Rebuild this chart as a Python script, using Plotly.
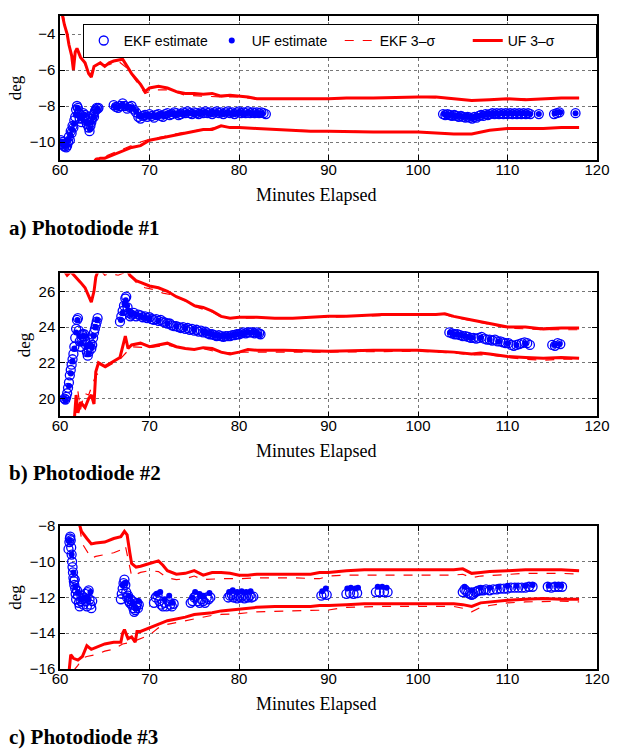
import plotly.graph_objects as go

# ---------------- data ----------------
# Panel a) Photodiode #1
p1_ekf_est = [(60.1,-9.9),(60.2,-10.1),(60.3,-10.0),(60.4,-10.2),(60.5,-10.25),(60.6,-10.1),(60.7,-10.3),(60.8,-10.2),
              (60.9,-10.0),(61.0,-9.7),(61.1,-9.9),(61.2,-9.4),(61.3,-9.5),(61.4,-9.1),(61.5,-9.2),(61.6,-8.8),
              (61.7,-8.6),(61.8,-8.2),(61.9,-8.0),(62.0,-8.1),(62.1,-8.4),(62.2,-8.7),(62.3,-8.5),(62.4,-8.9),
              (62.5,-8.7),(62.6,-8.4),(62.7,-8.6),(62.8,-8.5),(62.9,-8.8),(63.0,-9.0),(63.1,-8.8),(63.2,-9.2),
              (63.3,-9.4),(63.4,-9.1),(63.5,-8.9),(63.6,-8.7),(63.7,-8.5),(63.8,-8.6),(63.9,-8.3),(64.0,-8.2),
              (64.1,-8.1),(64.2,-8.15),(64.3,-8.1),
              (66.0,-7.95),(66.25,-8.05),(66.5,-8.1),(66.75,-8.0),(67.0,-7.85),(67.25,-8.0),(67.5,-8.15),
              (67.75,-8.05),(68.0,-8.0),(68.25,-8.2),(68.5,-8.35),(68.75,-8.6),(69.0,-8.7),(69.25,-8.55),
              (69.5,-8.5),(69.75,-8.6),(70.0,-8.45),(70.25,-8.55),(70.5,-8.65),(70.75,-8.5),(71.0,-8.45),
              (71.25,-8.55),(71.5,-8.6),(71.75,-8.45),(72.0,-8.4),(72.25,-8.5),(72.5,-8.45),(72.75,-8.35),
              (73.0,-8.4),(73.25,-8.5),(73.5,-8.45),(73.75,-8.35),(74.0,-8.4),(74.25,-8.3),(74.5,-8.4),
              (74.75,-8.45),(75.0,-8.35),(75.25,-8.4),(75.5,-8.45),(75.75,-8.35),(76.0,-8.4),(76.25,-8.3),
              (76.5,-8.4),(76.75,-8.35),(77.0,-8.45),(77.25,-8.35),(77.5,-8.3),(77.75,-8.4),(78.0,-8.35),
              (78.25,-8.45),(78.5,-8.35),(78.75,-8.3),(79.0,-8.4),(79.25,-8.35),(79.5,-8.45),(79.75,-8.35),
              (80.0,-8.3),(80.25,-8.4),(80.5,-8.35),(80.75,-8.4),(81.0,-8.3),(81.25,-8.4),(81.5,-8.35),
              (81.75,-8.4),(82.0,-8.35),(82.25,-8.4),(82.5,-8.35),(82.75,-8.4),(83.0,-8.45),
              (102.8,-8.45),(103.05,-8.5),(103.3,-8.45),(103.55,-8.5),(103.8,-8.55),(104.05,-8.5),(104.3,-8.55),
              (104.55,-8.6),(104.8,-8.55),(105.05,-8.6),(105.3,-8.65),(105.55,-8.6),(105.8,-8.65),(106.05,-8.7),
              (106.3,-8.6),(106.55,-8.65),(106.8,-8.55),(107.05,-8.5),(107.3,-8.55),(107.55,-8.45),(107.8,-8.5),
              (108.05,-8.45),(108.3,-8.4),(108.55,-8.45),(108.8,-8.4),(109.05,-8.45),(109.3,-8.4),(109.55,-8.45),
              (109.8,-8.4),(110.05,-8.45),(110.3,-8.4),(110.55,-8.45),(110.8,-8.4),(111.05,-8.45),(111.3,-8.4),
              (111.55,-8.45),(111.8,-8.4),(112.05,-8.45),(112.3,-8.4),(112.55,-8.45),
              (113.5,-8.45),(115.2,-8.45),(115.5,-8.4),(115.8,-8.35),(117.6,-8.4)]
p1_uf_est = [(60.15,-10.0),(60.35,-10.1),(60.55,-10.2),(60.75,-10.2),(60.95,-9.9),(61.15,-9.6),(61.35,-9.3),
             (61.55,-9.0),(61.75,-8.5),(61.95,-8.1),(62.15,-8.5),(62.35,-8.7),(62.55,-8.6),(62.75,-8.5),
             (62.95,-8.9),(63.15,-9.0),(63.35,-9.3),(63.55,-8.9),(63.75,-8.6),(63.95,-8.3),(64.15,-8.15),
             (66.1,-8.0),(66.4,-8.1),(66.7,-8.0),(67.0,-7.9),(67.3,-8.05),(67.6,-8.1),(67.9,-8.05),(68.2,-8.15),
             (68.5,-8.3),(68.8,-8.55),(69.1,-8.6),(69.4,-8.5),(69.7,-8.55),(70.0,-8.5),(70.3,-8.55),(70.6,-8.55),
             (70.9,-8.5),(71.2,-8.5),(71.5,-8.55),(71.8,-8.45),(72.1,-8.45),(72.4,-8.45),(72.7,-8.4),(73.0,-8.45),
             (73.3,-8.45),(73.6,-8.4),(73.9,-8.4),(74.2,-8.35),(74.5,-8.4),(74.8,-8.4),(75.1,-8.4),(75.4,-8.4),
             (75.7,-8.4),(76.0,-8.35),(76.3,-8.35),(76.6,-8.4),(76.9,-8.4),(77.2,-8.35),(77.5,-8.35),(77.8,-8.4),
             (78.1,-8.4),(78.4,-8.4),(78.7,-8.35),(79.0,-8.4),(79.3,-8.4),(79.6,-8.4),(79.9,-8.35),(80.2,-8.35),
             (80.5,-8.4),(80.8,-8.4),(81.1,-8.35),(81.4,-8.4),(81.7,-8.4),(82.0,-8.4),(82.3,-8.4),(82.6,-8.4),
             (102.9,-8.45),(103.2,-8.5),(103.5,-8.5),(103.8,-8.5),(104.1,-8.55),(104.4,-8.55),(104.7,-8.55),
             (105.0,-8.6),(105.3,-8.6),(105.6,-8.6),(105.9,-8.65),(106.2,-8.65),(106.5,-8.6),(106.8,-8.55),
             (107.1,-8.5),(107.4,-8.5),(107.7,-8.45),(108.0,-8.45),(108.3,-8.45),(108.6,-8.4),(108.9,-8.45),
             (109.2,-8.4),(109.5,-8.4),(109.8,-8.4),(110.1,-8.4),(110.4,-8.4),(110.7,-8.4),(111.0,-8.4),
             (111.3,-8.4),(111.6,-8.4),(111.9,-8.4),(112.2,-8.4),(112.5,-8.45),
             (113.5,-8.45),(115.3,-8.4),(115.6,-8.35),(115.9,-8.35),(117.6,-8.4)]
p1_uf_up = [(60.2,-2.8),(60.5,-3.5),(60.8,-4.0),(61.0,-4.6),(61.3,-5.2),(61.5,-6.0),(61.7,-5.0),(61.9,-4.8),
            (62.3,-5.3),(62.8,-5.6),(63.2,-6.2),(63.5,-6.4),(63.8,-5.8),(64.5,-5.6),(65.0,-5.8),(65.5,-5.6),
            (66.0,-5.5),(67.0,-5.4),(67.5,-5.8),(68.0,-6.2),(68.5,-6.5),(69.0,-6.8),(69.5,-7.2),(70.0,-7.0),
            (71.0,-6.9),(72.0,-7.0),(73.0,-7.2),(74.0,-7.3),(75.0,-7.3),(76.0,-7.35),(77.0,-7.3),(78.0,-7.45),
            (79.0,-7.4),(80.0,-7.45),(81.0,-7.5),(82.0,-7.6),(85.0,-7.6),(90.0,-7.6),(92.0,-7.55),(95.0,-7.55),
            (100.0,-7.5),(102.0,-7.5),(104.0,-7.6),(106.0,-7.7),(108.0,-7.65),(110.0,-7.6),(112.0,-7.65),
            (114.0,-7.6),(116.0,-7.55),(118.0,-7.55)]
p1_uf_lo = [(63.8,-11.2),(64.0,-11.0),(64.5,-10.9),(65.0,-10.9),(66.0,-10.7),(67.0,-10.5),(68.0,-10.3),
            (69.0,-10.2),(70.0,-9.9),(71.0,-9.8),(72.0,-9.7),(73.0,-9.6),(74.0,-9.5),(75.0,-9.4),(76.0,-9.3),
            (77.0,-9.3),(78.0,-9.1),(79.0,-9.2),(80.0,-9.2),(82.0,-9.25),(84.0,-9.3),(86.0,-9.35),(88.0,-9.4),
            (90.0,-9.4),(95.0,-9.45),(100.0,-9.45),(102.0,-9.5),(104.0,-9.55),(106.0,-9.55),(107.0,-9.45),
            (108.0,-9.35),(110.0,-9.25),(112.0,-9.25),(114.0,-9.25),(116.0,-9.2),(118.0,-9.2)]
p1_ekf_up = [(60.3,-2.8),(60.6,-3.6),(61.0,-4.5),(61.4,-5.5),(61.8,-4.9),(62.3,-5.2),(62.8,-5.7),(63.3,-6.3),
             (63.8,-5.9),(64.5,-5.7),(65.5,-5.7),(66.5,-5.5),(67.5,-5.9),(68.5,-6.6),(69.5,-7.3),(70.5,-7.1),
             (72.0,-7.1),(74.0,-7.4),(76.0,-7.45),(78.0,-7.5),(80.0,-7.5),(82.0,-7.6),(90.0,-7.6),(100.0,-7.5),
             (104.0,-7.6),(106.0,-7.7),(110.0,-7.6),(114.0,-7.6),(118.0,-7.55)]
p1_ekf_lo = [(63.5,-11.2),(64.0,-10.9),(65.0,-10.8),(66.0,-10.6),(67.0,-10.4),(68.0,-10.2),(69.0,-10.0),
             (70.0,-9.85),(72.0,-9.65),(74.0,-9.45),(76.0,-9.3),(78.0,-9.15),(80.0,-9.2),(84.0,-9.3),
             (90.0,-9.4),(100.0,-9.45),(104.0,-9.55),(106.0,-9.55),(108.0,-9.35),(110.0,-9.25),(118.0,-9.2)]

# Panel b) Photodiode #2
p2_ekf_est = [(60.5,20.0),(60.6,19.95),(60.7,20.1),(60.8,20.3),(60.9,20.6),(61.0,20.9),(61.1,21.3),(61.2,21.6),
              (61.3,21.9),(61.4,22.2),(61.5,22.5),(61.6,22.9),(61.7,23.4),(61.8,23.9),(61.9,24.4),(62.0,24.5),
              (62.1,23.8),(62.2,23.2),(62.3,22.9),(62.4,23.2),(62.5,23.6),(62.6,23.5),(62.7,23.6),(62.8,23.3),
              (62.9,23.0),(63.0,22.6),(63.1,22.4),(63.2,22.6),(63.3,22.9),(63.4,23.1),(63.5,22.8),(63.6,23.0),
              (63.7,23.4),(63.8,23.7),(63.9,23.9),(64.0,24.1),(64.1,24.3),(64.2,24.5),
              (66.7,24.3),(66.85,24.6),(67.0,24.9),(67.15,25.2),(67.3,25.6),(67.4,25.7),(67.55,25.1),(67.7,24.8),
              (67.85,24.6),(68.0,24.7),(68.25,24.8),(68.5,24.6),(68.75,24.7),(69.0,24.65),(69.25,24.55),
              (69.5,24.6),(69.75,24.5),(70.0,24.55),(70.25,24.45),(70.5,24.4),(70.75,24.45),(71.0,24.35),
              (71.25,24.4),(71.5,24.3),(71.75,24.25),(72.0,24.2),(72.25,24.2),(72.5,24.1),(72.75,24.05),
              (73.0,24.05),(73.25,24.0),(73.5,23.95),(73.75,24.0),(74.0,23.9),(74.25,23.95),(74.5,23.85),
              (74.75,23.9),(75.0,23.8),(75.25,23.85),(75.5,23.75),(75.75,23.8),(76.0,23.7),(76.25,23.75),
              (76.5,23.65),(76.75,23.6),(77.0,23.6),(77.25,23.55),(77.5,23.5),(77.75,23.55),(78.0,23.5),
              (78.25,23.45),(78.5,23.5),(78.75,23.5),(79.0,23.5),(79.25,23.55),(79.5,23.55),(79.75,23.6),
              (80.0,23.6),(80.25,23.65),(80.5,23.7),(80.75,23.65),(81.0,23.7),(81.25,23.7),(81.5,23.7),
              (81.75,23.65),(82.0,23.7),(82.25,23.65),(82.4,23.6),
              (103.5,23.7),(103.8,23.65),(104.1,23.6),(104.4,23.6),(104.7,23.55),(105.0,23.5),(105.3,23.5),
              (105.6,23.45),(105.9,23.4),(106.2,23.4),(106.5,23.35),(106.8,23.4),(107.1,23.45),(107.4,23.35),
              (107.7,23.3),(108.0,23.3),(108.3,23.25),(108.6,23.3),(108.9,23.2),(109.2,23.2),(109.5,23.15),
              (109.8,23.1),(110.1,23.1),(110.4,23.0),(110.7,22.95),(111.0,23.0),(111.3,23.05),(111.6,23.1),
              (111.9,23.15),(112.2,23.1),(112.5,23.0),
              (115.0,23.0),(115.3,22.95),(115.6,23.1),(115.9,23.05)]
p2_uf_est = [(60.5,20.0),(60.6,19.9),(61.0,20.7),(61.2,21.4),(61.4,22.1),(61.6,22.8),(61.8,23.7),(61.95,24.4),
             (62.15,23.5),(62.35,23.1),(62.55,23.5),(62.75,23.5),(62.95,22.9),(63.15,22.5),(63.35,23.0),
             (63.55,22.9),(63.75,23.5),(63.95,24.0),(64.15,24.4),
             (66.8,24.4),(67.0,24.8),(67.2,25.3),(67.35,25.5),(67.5,25.2),(67.7,24.9),(67.9,24.7),(68.2,24.75),
             (68.5,24.7),(69.0,24.6),(69.5,24.55),(70.0,24.5),(71.0,24.35),(72.0,24.2),(73.0,24.05),(74.0,23.95),
             (75.0,23.85),(76.0,23.75),(76.3,23.7),(76.6,23.65),(76.9,23.6),(77.2,23.55),(77.5,23.55),
             (77.8,23.5),(78.1,23.5),(78.4,23.5),(78.7,23.5),(79.0,23.5),(79.3,23.55),(79.6,23.6),(79.9,23.6),
             (80.2,23.65),(80.5,23.65),(80.8,23.7),(81.1,23.7),(81.4,23.7),(81.7,23.7),(82.0,23.65),(82.3,23.6),
             (103.6,23.7),(104.0,23.6),(104.4,23.6),(104.8,23.55),(105.2,23.5),(105.6,23.45),(106.0,23.4),
             (107.0,23.4),(108.0,23.3),(109.0,23.2),(110.0,23.1),(111.0,23.0),(112.0,23.1),(115.2,23.0),
             (115.8,23.05)]
p2_uf_up = [(60.4,27.2),(60.8,26.9),(61.2,27.1),(61.6,26.9),(62.0,26.7),(62.3,26.5),(62.8,26.2),(63.2,25.7),
            (63.5,25.4),(63.8,26.0),(64.0,26.8),(64.3,27.2),(67.5,27.2),(67.8,26.9),(68.5,26.6),(69.0,26.5),
            (70.0,26.3),(71.0,26.2),(72.0,26.0),(73.0,25.7),(74.0,25.5),(75.0,25.2),(76.0,25.1),(77.0,24.9),
            (78.0,24.6),(79.0,24.5),(80.0,24.55),(82.0,24.55),(84.0,24.5),(86.0,24.5),(88.0,24.55),
            (90.0,24.6),(92.0,24.6),(94.0,24.65),(96.0,24.7),(100.0,24.7),(102.0,24.7),(103.0,24.75),
            (104.0,24.6),(106.0,24.4),(107.0,24.3),(108.0,24.2),(109.0,24.1),(110.0,24.0),(112.0,24.0),
            (114.0,23.9),(116.0,23.95),(118.0,23.95)]
p2_uf_lo = [(61.6,18.8),(61.8,20.2),(62.0,19.2),(62.3,19.8),(62.8,19.5),(63.2,20.0),(63.5,20.2),(63.8,19.7),
            (64.0,21.5),(64.3,22.0),(65.0,21.8),(66.0,22.1),(66.7,22.3),(67.3,23.5),(67.6,22.8),(68.0,23.0),
            (69.0,23.1),(70.0,22.9),(71.0,23.0),(72.0,23.1),(73.0,22.9),(74.0,22.8),(75.0,22.75),(76.0,22.85),
            (77.0,22.8),(78.0,22.6),(79.0,22.5),(80.0,22.6),(81.0,22.75),(82.0,22.7),(85.0,22.7),(88.0,22.65),
            (90.0,22.65),(95.0,22.7),(100.0,22.7),(102.0,22.65),(104.0,22.6),(106.0,22.5),(107.0,22.55),
            (108.0,22.5),(110.0,22.35),(112.0,22.3),(114.0,22.25),(116.0,22.3),(118.0,22.25)]
p2_ekf_up = [(64.5,27.2),(65.0,26.9),(65.5,27.0),(66.5,26.9),(67.5,27.1),(68.5,26.5),(69.5,26.2),(70.5,26.1),
             (71.5,25.9),(72.5,25.8),(73.5,25.6),(75.0,25.15),(77.0,24.85),(78.0,24.55),(80.0,24.5),
             (90.0,24.55),(100.0,24.7),(103.0,24.7),(104.0,24.55),(106.0,24.35),(108.0,24.15),(110.0,23.95),
             (112.0,23.9),(114.0,23.85),(116.0,23.85),(118.0,23.85)]
p2_ekf_lo = [(62.0,20.4),(62.3,19.4),(62.7,20.3),(63.2,20.2),(64.0,21.3),(65.0,21.7),(66.7,22.2),(68.0,22.9),
             (70.0,22.85),(72.0,23.0),(74.0,22.75),(76.0,22.8),(78.0,22.55),(80.0,22.6),(90.0,22.6),
             (100.0,22.65),(104.0,22.55),(106.0,22.45),(108.0,22.45),(110.0,22.3),(112.0,22.2),(114.0,22.15),
             (116.0,22.2),(118.0,22.2)]

# Panel c) Photodiode #3
p3_ekf_est = [(60.95,-9.3),(61.05,-8.9),(61.1,-8.7),(61.15,-8.6),(61.2,-8.8),(61.25,-9.2),(61.3,-9.6),(61.35,-10.0),
              (61.4,-10.3),(61.45,-10.6),(61.5,-10.9),(61.55,-11.1),(61.6,-11.3),(61.65,-11.0),(61.7,-11.5),
              (61.75,-11.8),(61.8,-12.1),(61.9,-11.6),(62.0,-11.9),(62.1,-12.3),(62.2,-12.5),(62.3,-12.2),
              (62.4,-11.9),(62.5,-12.1),(62.6,-12.4),(62.7,-12.0),(62.8,-11.8),(62.9,-12.2),(63.0,-12.5),
              (63.1,-11.7),(63.2,-11.6),(63.3,-12.1),(63.4,-12.4),(63.5,-12.6),(63.6,-12.2),
              (66.8,-12.1),(66.9,-11.8),(67.0,-11.5),(67.1,-11.2),(67.2,-11.0),(67.3,-11.3),(67.4,-11.7),
              (67.5,-12.0),(67.6,-11.9),(67.7,-12.2),(67.8,-12.3),(67.9,-12.1),(68.0,-12.4),(68.1,-12.2),
              (68.2,-12.6),(68.3,-12.8),(68.4,-12.7),(68.5,-12.5),(68.6,-12.3),(68.7,-12.6),(68.8,-12.4),
              (70.5,-12.3),(70.7,-12.0),(70.9,-11.9),(71.1,-12.2),(71.3,-12.4),(71.5,-12.5),(71.7,-12.3),
              (71.9,-12.5),(72.1,-12.2),(72.3,-12.4),(72.5,-12.5),(72.7,-12.35),
              (74.6,-12.3),(74.8,-12.2),(75.0,-12.0),(75.2,-11.9),(75.4,-12.2),(75.6,-12.3),(75.8,-12.1),
              (76.0,-12.2),(76.2,-12.3),(76.4,-12.0),(76.6,-12.1),(76.8,-12.0),
              (78.8,-12.0),(79.0,-11.9),(79.2,-11.85),(79.4,-12.0),(79.6,-11.9),(79.8,-12.05),(80.0,-11.95),
              (80.2,-12.0),(80.4,-11.9),(80.6,-12.05),(80.8,-11.95),(81.0,-12.0),(81.2,-11.9),(81.4,-12.0),
              (81.6,-11.95),
              (89.2,-11.9),(89.5,-11.8),(89.8,-11.85),
              (92.0,-11.8),(92.4,-11.75),(92.8,-11.8),(93.2,-11.75),
              (95.3,-11.7),(95.7,-11.7),(96.2,-11.7),(96.6,-11.7),
              (105.0,-11.7),(105.2,-11.55),(105.4,-11.65),(105.6,-11.75),(105.8,-11.8),(106.0,-11.85),
              (106.2,-11.8),(106.4,-11.7),(106.6,-11.65),(106.8,-11.6),(107.0,-11.6),(107.3,-11.6),
              (107.6,-11.55),(108.0,-11.6),(108.4,-11.55),(108.8,-11.55),(109.2,-11.5),(109.6,-11.5),
              (110.0,-11.5),(110.4,-11.45),(110.8,-11.45),(111.2,-11.45),(111.6,-11.45),(112.0,-11.45),
              (112.4,-11.4),(112.8,-11.4),
              (114.5,-11.4),(114.9,-11.45),(115.3,-11.4),(115.7,-11.4),(116.1,-11.4)]
p3_uf_est = [(61.1,-8.8),(61.3,-9.6),(61.5,-10.6),(61.7,-11.4),(62.0,-11.7),(62.4,-12.1),(62.8,-12.0),
             (63.2,-12.1),(63.4,-11.7),
             (67.0,-11.3),(67.3,-11.2),(67.7,-11.9),(68.1,-12.3),(68.5,-12.6),(68.8,-12.2),
             (70.8,-11.8),(71.2,-11.7),(71.7,-12.1),(72.2,-11.9),(72.6,-12.3),
             (74.8,-12.0),(75.1,-11.7),(75.6,-11.8),(76.0,-11.9),(76.7,-11.75),
             (78.9,-11.7),(79.3,-11.6),(79.8,-11.7),(80.3,-11.65),(80.8,-11.7),(81.3,-11.65),
             (89.3,-11.65),(89.7,-11.5),
             (92.1,-11.5),(92.5,-11.45),(93.0,-11.5),(93.3,-11.45),
             (95.5,-11.4),(96.0,-11.4),(96.5,-11.45),
             (105.2,-11.4),(106.0,-11.6),(107.0,-11.45),(108.0,-11.45),(109.0,-11.4),(110.0,-11.35),
             (111.0,-11.35),(112.0,-11.35),(112.8,-11.3),(114.6,-11.35),(115.5,-11.3),(116.0,-11.35)]
p3_uf_up = [(62.1,-7.8),(62.4,-8.3),(63.0,-8.7),(63.5,-9.0),(64.0,-8.95),(65.0,-8.9),(66.0,-8.7),(66.8,-8.6),
            (67.2,-8.3),(67.5,-8.5),(67.8,-9.5),(68.0,-10.1),(68.5,-10.3),(69.0,-10.25),(70.0,-10.1),
            (71.0,-9.95),(71.5,-10.2),(72.0,-10.5),(73.0,-10.7),(74.0,-10.65),(75.0,-10.5),(76.0,-10.75),
            (77.0,-10.6),(78.0,-10.6),(79.0,-10.65),(80.0,-10.75),(81.0,-10.75),(82.0,-10.7),(84.0,-10.7),
            (86.0,-10.7),(88.0,-10.7),(89.0,-10.6),(90.0,-10.6),(92.0,-10.5),(94.0,-10.45),(96.0,-10.45),
            (100.0,-10.45),(104.0,-10.45),(105.0,-10.4),(106.0,-10.65),(107.0,-10.6),(108.0,-10.55),
            (110.0,-10.5),(112.0,-10.45),(114.0,-10.45),(116.0,-10.45),(118.0,-10.5)]
p3_uf_lo = [(61.0,-16.2),(61.2,-15.2),(61.5,-15.4),(62.0,-15.5),(62.5,-15.3),(63.0,-14.7),(63.5,-14.9),
            (64.0,-14.8),(65.0,-14.6),(66.0,-14.5),(66.8,-14.5),(67.0,-14.0),(67.2,-13.8),(67.6,-14.3),
            (68.0,-14.2),(68.4,-14.5),(68.6,-13.9),(69.0,-13.9),(70.0,-13.7),(71.0,-13.5),(72.0,-13.3),
            (73.0,-13.2),(74.0,-13.1),(75.0,-12.95),(76.0,-12.9),(77.0,-12.85),(78.0,-12.75),(79.0,-12.7),
            (80.0,-12.65),(82.0,-12.55),(84.0,-12.5),(86.0,-12.5),(88.0,-12.5),(89.0,-12.45),(90.0,-12.45),
            (92.0,-12.4),(94.0,-12.35),(96.0,-12.35),(100.0,-12.35),(104.0,-12.35),(105.0,-12.4),
            (106.0,-12.5),(107.0,-12.3),(108.0,-12.25),(110.0,-12.15),(112.0,-12.1),(114.0,-12.05),
            (116.0,-12.1),(118.0,-12.1)]
p3_ekf_up = [(62.2,-8.1),(62.5,-9.0),(63.0,-9.4),(63.5,-9.8),(64.0,-9.7),(65.0,-9.6),(66.0,-9.5),(67.0,-9.3),
             (67.3,-9.1),(67.8,-10.3),(68.0,-10.8),(69.0,-10.6),(70.0,-10.5),(71.0,-10.55),(72.0,-10.9),
             (73.0,-11.0),(74.0,-10.95),(75.0,-10.8),(76.0,-11.0),(78.0,-10.95),(80.0,-10.95),(82.0,-10.9),
             (86.0,-10.9),(89.0,-10.95),(90.0,-10.8),(92.0,-10.75),(96.0,-10.75),(100.0,-10.75),
             (104.0,-10.75),(105.0,-10.7),(106.0,-10.9),(107.0,-10.8),(110.0,-10.7),(112.0,-10.65),
             (116.0,-10.65),(118.0,-10.7)]
p3_ekf_lo = [(61.5,-16.1),(62.0,-15.8),(62.5,-15.4),(63.0,-15.3),(64.0,-15.2),(65.0,-15.0),(66.0,-14.9),
             (67.0,-14.6),(68.0,-14.5),(69.0,-14.3),(70.0,-14.1),(71.0,-13.7),(72.0,-13.5),(73.0,-13.4),
             (74.0,-13.3),(75.0,-13.2),(76.0,-13.1),(77.0,-13.0),(78.0,-12.95),(80.0,-12.9),(82.0,-12.8),
             (86.0,-12.75),(89.0,-12.75),(90.0,-12.7),(92.0,-12.55),(96.0,-12.5),(100.0,-12.5),
             (104.0,-12.5),(105.0,-12.6),(106.0,-12.8),(107.0,-12.55),(108.0,-12.45),(110.0,-12.3),
             (112.0,-12.25),(116.0,-12.2),(118.0,-12.25)]

y_ranges = [[-11, -3], [19, 27], [-16, -8]]
y_tick0 = [-10, 20, -16]
x_range = [60, 120]
x_title = "Minutes Elapsed"
y_title = "deg"
panel_labels = ["a) Photodiode #1", "b) Photodiode #2", "c) Photodiode #3"]
legend_names = ["EKF estimate", "UF estimate", "EKF 3\u2013\u03c3", "UF 3\u2013\u03c3"]

panels = [
    (p1_ekf_est, p1_uf_est, p1_ekf_up, p1_ekf_lo, p1_uf_up, p1_uf_lo),
    (p2_ekf_est, p2_uf_est, p2_ekf_up, p2_ekf_lo, p2_uf_up, p2_uf_lo),
    (p3_ekf_est, p3_uf_est, p3_ekf_up, p3_ekf_lo, p3_uf_up, p3_uf_lo),
]

# ---------------- layout geometry ----------------
W, H = 617, 750
ML, MR, MT, MB = 60, 14, 7, 81
PH = H - MT - MB
def py(pix):  # pixel y -> paper y
    return (H - MB - pix) / PH
def px(pix):
    return (pix - ML) / (W - ML - MR)
domains = [[py(153), py(7)], [py(413), py(268)], [py(669), py(524)]]
xtitle_y = [188, 448, 704]
label_y = [222, 470, 738]

BLUE = "#0000ff"
RED = "#ff0000"
SANS = "Liberation Sans, Arial, sans-serif"
SERIF = "Liberation Serif, Times New Roman, serif"

def xs(pts): return [p[0] for p in pts]
def ys(pts): return [p[1] for p in pts]
def band(up, lo):
    return xs(up) + [None] + xs(lo), ys(up) + [None] + ys(lo)

fig = go.Figure()
for i, (ekf_est, uf_est, ekf_up, ekf_lo, uf_up, uf_lo) in enumerate(panels):
    n = i + 1
    xa = "x" if n == 1 else f"x{n}"
    ya = "y" if n == 1 else f"y{n}"
    bx, by = band(ekf_up, ekf_lo)
    fig.add_trace(go.Scatter(x=bx, y=by, mode="lines", name=legend_names[2], showlegend=(n == 1),
                             legendrank=3, line=dict(color=RED, width=1.2, dash="dash"),
                             xaxis=xa, yaxis=ya))
    bx, by = band(uf_up, uf_lo)
    fig.add_trace(go.Scatter(x=bx, y=by, mode="lines", name=legend_names[3], showlegend=(n == 1),
                             legendrank=4, line=dict(color=RED, width=3),
                             xaxis=xa, yaxis=ya))
    fig.add_trace(go.Scatter(x=xs(ekf_est), y=ys(ekf_est), mode="markers", name=legend_names[0],
                             showlegend=(n == 1), legendrank=1,
                             marker=dict(symbol="circle-open", size=9, color=BLUE, line=dict(width=1.3)),
                             xaxis=xa, yaxis=ya))
    fig.add_trace(go.Scatter(x=xs(uf_est), y=ys(uf_est), mode="markers", name=legend_names[1],
                             showlegend=(n == 1), legendrank=2,
                             marker=dict(symbol="circle", size=6, color=BLUE),
                             xaxis=xa, yaxis=ya))

axis_common = dict(showline=True, linecolor="black", linewidth=1.5, mirror="ticks", ticks="inside",
                   ticklen=5, tickcolor="black", showgrid=True, gridcolor="#777777", griddash="dot",
                   gridwidth=1, zeroline=False, tickfont=dict(family=SANS, size=15, color="black"))

layout = dict(width=W, height=H, margin=dict(l=ML, r=MR, t=MT, b=MB),
              paper_bgcolor="white", plot_bgcolor="white",
              legend=dict(x=px(83), y=py(15), xanchor="left", yanchor="top", orientation="h",
                          bgcolor="white", bordercolor="black", borderwidth=1,
                          font=dict(family=SANS, size=14, color="black"),
                          entrywidth=83, entrywidthmode="pixels", itemwidth=30,
                          traceorder="normal"),
              annotations=[])
for i in range(3):
    n = i + 1
    xk = "xaxis" if n == 1 else f"xaxis{n}"
    yk = "yaxis" if n == 1 else f"yaxis{n}"
    ak = "y" if n == 1 else f"y{n}"
    xa_anchor = "x" if n == 1 else f"x{n}"
    layout[xk] = dict(axis_common, range=x_range, dtick=10, tick0=60, anchor=ak, domain=[0, 1],
                      ticklabelstandoff=-5)
    layout[yk] = dict(axis_common, range=y_ranges[i], dtick=2, tick0=y_tick0[i], anchor=xa_anchor,
                      domain=domains[i],
                      title=dict(text=y_title, font=dict(family=SERIF, size=17, color="black"), standoff=4))
    layout["annotations"].append(dict(text=x_title, xref="paper", yref="paper",
                                      x=px(319), y=py(xtitle_y[i]), xanchor="center", yanchor="middle",
                                      showarrow=False, font=dict(family=SERIF, size=18, color="black")))
    layout["annotations"].append(dict(text="<b>" + panel_labels[i] + "</b>", xref="paper", yref="paper",
                                      x=px(6), y=py(label_y[i]), xanchor="left", yanchor="middle",
                                      showarrow=False, font=dict(family=SERIF, size=21, color="black")))

fig.update_layout(**layout)
fig.write_html("out.html")
